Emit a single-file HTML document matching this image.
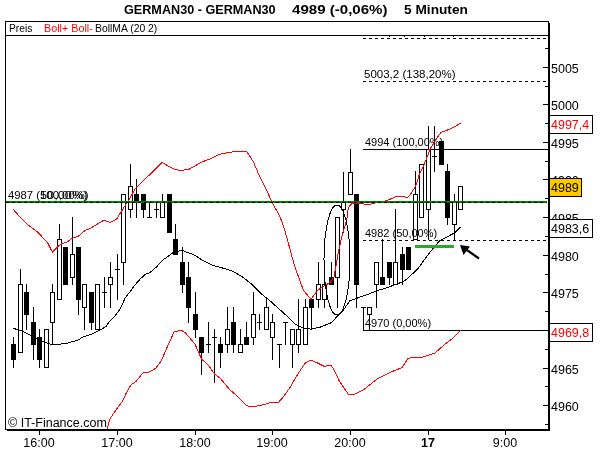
<!DOCTYPE html>
<html><head><meta charset="utf-8"><style>
html,body{margin:0;padding:0;background:#fff;width:600px;height:450px;overflow:hidden;position:relative;font-family:"Liberation Sans",sans-serif;}
.t{position:absolute;white-space:pre;line-height:1;}
</style></head><body>
<svg width="600" height="450" viewBox="0 0 600 450" style="position:absolute;left:0;top:0;will-change:transform" font-family="Liberation Sans, sans-serif"><g shape-rendering="crispEdges"><rect x="5" y="21" width="544" height="1" fill="#000"/><rect x="5" y="21" width="1" height="409" fill="#000"/><rect x="5" y="35" width="544" height="1" fill="#000"/><rect x="548" y="21" width="1" height="410" fill="#000"/><rect x="549" y="23" width="1" height="408" fill="#000"/><rect x="5" y="429" width="545" height="1" fill="#000"/><rect x="7" y="430" width="543" height="1" fill="#000"/><rect x="543" y="67" width="5" height="1" fill="#000"/><rect x="543" y="104" width="5" height="1" fill="#000"/><rect x="543" y="142" width="5" height="1" fill="#000"/><rect x="543" y="179" width="5" height="1" fill="#000"/><rect x="543" y="217" width="5" height="1" fill="#000"/><rect x="543" y="255" width="5" height="1" fill="#000"/><rect x="543" y="292" width="5" height="1" fill="#000"/><rect x="543" y="330" width="5" height="1" fill="#000"/><rect x="543" y="368" width="5" height="1" fill="#000"/><rect x="543" y="405" width="5" height="1" fill="#000"/><rect x="545" y="48" width="3" height="1" fill="#000"/><rect x="545" y="86" width="3" height="1" fill="#000"/><rect x="545" y="123" width="3" height="1" fill="#000"/><rect x="545" y="161" width="3" height="1" fill="#000"/><rect x="545" y="198" width="3" height="1" fill="#000"/><rect x="545" y="236" width="3" height="1" fill="#000"/><rect x="545" y="274" width="3" height="1" fill="#000"/><rect x="545" y="311" width="3" height="1" fill="#000"/><rect x="545" y="349" width="3" height="1" fill="#000"/><rect x="545" y="386" width="3" height="1" fill="#000"/><rect x="545" y="424" width="3" height="1" fill="#000"/><rect x="389" y="36" width="1" height="1" fill="#000"/><rect x="404" y="36" width="1" height="1" fill="#000"/><rect x="424" y="36" width="1" height="1" fill="#000"/><rect x="453" y="36" width="1" height="1" fill="#000"/><rect x="39" y="431" width="1" height="4" fill="#000"/><rect x="117" y="431" width="1" height="4" fill="#000"/><rect x="195" y="431" width="1" height="4" fill="#000"/><rect x="272" y="431" width="1" height="4" fill="#000"/><rect x="350" y="431" width="1" height="4" fill="#000"/><rect x="428" y="431" width="1" height="4" fill="#000"/><rect x="505" y="431" width="1" height="4" fill="#000"/><rect x="363" y="38" width="3" height="1" fill="#000"/><rect x="369" y="38" width="3" height="1" fill="#000"/><rect x="375" y="38" width="3" height="1" fill="#000"/><rect x="381" y="38" width="3" height="1" fill="#000"/><rect x="387" y="38" width="3" height="1" fill="#000"/><rect x="393" y="38" width="3" height="1" fill="#000"/><rect x="399" y="38" width="3" height="1" fill="#000"/><rect x="405" y="38" width="3" height="1" fill="#000"/><rect x="411" y="38" width="3" height="1" fill="#000"/><rect x="417" y="38" width="3" height="1" fill="#000"/><rect x="423" y="38" width="3" height="1" fill="#000"/><rect x="429" y="38" width="3" height="1" fill="#000"/><rect x="435" y="38" width="3" height="1" fill="#000"/><rect x="441" y="38" width="3" height="1" fill="#000"/><rect x="447" y="38" width="3" height="1" fill="#000"/><rect x="453" y="38" width="3" height="1" fill="#000"/><rect x="459" y="38" width="3" height="1" fill="#000"/><rect x="465" y="38" width="3" height="1" fill="#000"/><rect x="471" y="38" width="3" height="1" fill="#000"/><rect x="477" y="38" width="3" height="1" fill="#000"/><rect x="483" y="38" width="3" height="1" fill="#000"/><rect x="489" y="38" width="3" height="1" fill="#000"/><rect x="495" y="38" width="3" height="1" fill="#000"/><rect x="501" y="38" width="3" height="1" fill="#000"/><rect x="507" y="38" width="3" height="1" fill="#000"/><rect x="513" y="38" width="3" height="1" fill="#000"/><rect x="519" y="38" width="3" height="1" fill="#000"/><rect x="525" y="38" width="3" height="1" fill="#000"/><rect x="531" y="38" width="3" height="1" fill="#000"/><rect x="537" y="38" width="3" height="1" fill="#000"/><rect x="543" y="38" width="3" height="1" fill="#000"/><rect x="363" y="81" width="3" height="1" fill="#000"/><rect x="369" y="81" width="3" height="1" fill="#000"/><rect x="375" y="81" width="3" height="1" fill="#000"/><rect x="381" y="81" width="3" height="1" fill="#000"/><rect x="387" y="81" width="3" height="1" fill="#000"/><rect x="393" y="81" width="3" height="1" fill="#000"/><rect x="399" y="81" width="3" height="1" fill="#000"/><rect x="405" y="81" width="3" height="1" fill="#000"/><rect x="411" y="81" width="3" height="1" fill="#000"/><rect x="417" y="81" width="3" height="1" fill="#000"/><rect x="423" y="81" width="3" height="1" fill="#000"/><rect x="429" y="81" width="3" height="1" fill="#000"/><rect x="435" y="81" width="3" height="1" fill="#000"/><rect x="441" y="81" width="3" height="1" fill="#000"/><rect x="447" y="81" width="3" height="1" fill="#000"/><rect x="453" y="81" width="3" height="1" fill="#000"/><rect x="459" y="81" width="3" height="1" fill="#000"/><rect x="465" y="81" width="3" height="1" fill="#000"/><rect x="471" y="81" width="3" height="1" fill="#000"/><rect x="477" y="81" width="3" height="1" fill="#000"/><rect x="483" y="81" width="3" height="1" fill="#000"/><rect x="489" y="81" width="3" height="1" fill="#000"/><rect x="495" y="81" width="3" height="1" fill="#000"/><rect x="501" y="81" width="3" height="1" fill="#000"/><rect x="507" y="81" width="3" height="1" fill="#000"/><rect x="513" y="81" width="3" height="1" fill="#000"/><rect x="519" y="81" width="3" height="1" fill="#000"/><rect x="525" y="81" width="3" height="1" fill="#000"/><rect x="531" y="81" width="3" height="1" fill="#000"/><rect x="537" y="81" width="3" height="1" fill="#000"/><rect x="543" y="81" width="3" height="1" fill="#000"/><rect x="363" y="149" width="185" height="1" fill="#000"/><rect x="363" y="240" width="3" height="1" fill="#000"/><rect x="369" y="240" width="3" height="1" fill="#000"/><rect x="375" y="240" width="3" height="1" fill="#000"/><rect x="381" y="240" width="3" height="1" fill="#000"/><rect x="387" y="240" width="3" height="1" fill="#000"/><rect x="393" y="240" width="3" height="1" fill="#000"/><rect x="399" y="240" width="3" height="1" fill="#000"/><rect x="405" y="240" width="3" height="1" fill="#000"/><rect x="411" y="240" width="3" height="1" fill="#000"/><rect x="417" y="240" width="3" height="1" fill="#000"/><rect x="423" y="240" width="3" height="1" fill="#000"/><rect x="429" y="240" width="3" height="1" fill="#000"/><rect x="435" y="240" width="3" height="1" fill="#000"/><rect x="441" y="240" width="3" height="1" fill="#000"/><rect x="447" y="240" width="3" height="1" fill="#000"/><rect x="453" y="240" width="3" height="1" fill="#000"/><rect x="459" y="240" width="3" height="1" fill="#000"/><rect x="465" y="240" width="3" height="1" fill="#000"/><rect x="471" y="240" width="3" height="1" fill="#000"/><rect x="477" y="240" width="3" height="1" fill="#000"/><rect x="483" y="240" width="3" height="1" fill="#000"/><rect x="489" y="240" width="3" height="1" fill="#000"/><rect x="495" y="240" width="3" height="1" fill="#000"/><rect x="501" y="240" width="3" height="1" fill="#000"/><rect x="507" y="240" width="3" height="1" fill="#000"/><rect x="513" y="240" width="3" height="1" fill="#000"/><rect x="519" y="240" width="3" height="1" fill="#000"/><rect x="525" y="240" width="3" height="1" fill="#000"/><rect x="531" y="240" width="3" height="1" fill="#000"/><rect x="537" y="240" width="3" height="1" fill="#000"/><rect x="543" y="240" width="3" height="1" fill="#000"/><rect x="363" y="330" width="185" height="1" fill="#000"/></g><text x="124" y="14" font-size="12" fill="#000" font-weight="bold" text-anchor="start" textLength="151.6" lengthAdjust="spacingAndGlyphs">GERMAN30 - GERMAN30</text><text x="292" y="14" font-size="12" fill="#000" font-weight="bold" text-anchor="start" textLength="95.5" lengthAdjust="spacingAndGlyphs">4989 (-0,06%)</text><text x="404" y="14" font-size="12" fill="#000" font-weight="bold" text-anchor="start" textLength="63.9" lengthAdjust="spacingAndGlyphs">5 Minuten</text><text x="9" y="32" font-size="11" fill="#000" font-weight="normal" text-anchor="start" textLength="23.4" lengthAdjust="spacingAndGlyphs">Preis</text><text x="44" y="32" font-size="11" fill="#f00" font-weight="normal" text-anchor="start" textLength="48.8" lengthAdjust="spacingAndGlyphs">Boll+ Boll-</text><text x="95" y="32" font-size="11" fill="#000" font-weight="normal" text-anchor="start" textLength="62.3" lengthAdjust="spacingAndGlyphs">BollMA (20 2)</text><text x="551" y="73" font-size="12.5" fill="#000" font-weight="normal" text-anchor="start">5005</text><text x="551" y="110" font-size="12.5" fill="#000" font-weight="normal" text-anchor="start">5000</text><text x="551" y="148" font-size="12.5" fill="#000" font-weight="normal" text-anchor="start">4995</text><text x="551" y="185" font-size="12.5" fill="#000" font-weight="normal" text-anchor="start">4990</text><text x="551" y="223" font-size="12.5" fill="#000" font-weight="normal" text-anchor="start">4985</text><text x="551" y="261" font-size="12.5" fill="#000" font-weight="normal" text-anchor="start">4980</text><text x="551" y="298" font-size="12.5" fill="#000" font-weight="normal" text-anchor="start">4975</text><text x="551" y="374" font-size="12.5" fill="#000" font-weight="normal" text-anchor="start">4965</text><text x="551" y="411" font-size="12.5" fill="#000" font-weight="normal" text-anchor="start">4960</text><text x="39" y="447" font-size="12.5" fill="#000" font-weight="normal" text-anchor="middle">16:00</text><text x="117" y="447" font-size="12.5" fill="#000" font-weight="normal" text-anchor="middle">17:00</text><text x="195" y="447" font-size="12.5" fill="#000" font-weight="normal" text-anchor="middle">18:00</text><text x="272" y="447" font-size="12.5" fill="#000" font-weight="normal" text-anchor="middle">19:00</text><text x="350" y="447" font-size="12.5" fill="#000" font-weight="normal" text-anchor="middle">20:00</text><text x="505" y="447" font-size="12.5" fill="#000" font-weight="normal" text-anchor="middle">9:00</text><text x="428" y="447" font-size="12.5" fill="#000" font-weight="bold" text-anchor="middle">17</text><text x="8" y="427" font-size="12.5" fill="#000" font-weight="normal" text-anchor="start">&#169; IT-Finance.com</text><text x="8" y="199" font-size="11" fill="#000" font-weight="normal" text-anchor="start" textLength="80.5" lengthAdjust="spacingAndGlyphs">4987 (100,00%)</text><text x="40" y="199" font-size="11" fill="#000" font-weight="normal" text-anchor="start" textLength="47.5" lengthAdjust="spacingAndGlyphs">50,00%)</text><g shape-rendering="crispEdges" fill="#000"><rect x="13" y="337" width="1" height="31"/><rect x="11" y="344" width="5" height="16"/><rect x="20" y="269" width="1" height="84"/><rect x="18" y="284" width="5" height="69"/><rect x="19" y="285" width="3" height="67" fill="#fff"/><rect x="26" y="284" width="1" height="46"/><rect x="24" y="292" width="5" height="23"/><rect x="33" y="307" width="1" height="53"/><rect x="31" y="322" width="5" height="23"/><rect x="39" y="329" width="1" height="39"/><rect x="37" y="337" width="5" height="23"/><rect x="46" y="329" width="1" height="39"/><rect x="44" y="329" width="5" height="39"/><rect x="45" y="330" width="3" height="37" fill="#fff"/><rect x="52" y="284" width="1" height="61"/><rect x="50" y="292" width="5" height="31"/><rect x="51" y="293" width="3" height="29" fill="#fff"/><rect x="59" y="224" width="1" height="76"/><rect x="57" y="239" width="5" height="61"/><rect x="58" y="240" width="3" height="59" fill="#fff"/><rect x="65" y="247" width="1" height="38"/><rect x="63" y="247" width="5" height="38"/><rect x="72" y="217" width="1" height="68"/><rect x="70" y="254" width="5" height="24"/><rect x="71" y="255" width="3" height="22" fill="#fff"/><rect x="78" y="247" width="1" height="68"/><rect x="76" y="247" width="5" height="53"/><rect x="84" y="284" width="1" height="46"/><rect x="82" y="284" width="5" height="24"/><rect x="83" y="285" width="3" height="22" fill="#fff"/><rect x="91" y="292" width="1" height="38"/><rect x="89" y="292" width="5" height="31"/><rect x="97" y="284" width="1" height="46"/><rect x="95" y="284" width="5" height="46"/><rect x="96" y="285" width="3" height="44" fill="#fff"/><rect x="104" y="277" width="1" height="31"/><rect x="102" y="292" width="5" height="1"/><rect x="110" y="262" width="1" height="46"/><rect x="108" y="277" width="5" height="8"/><rect x="109" y="278" width="3" height="6" fill="#fff"/><rect x="117" y="254" width="1" height="46"/><rect x="115" y="269" width="5" height="1"/><rect x="123" y="194" width="1" height="91"/><rect x="121" y="194" width="5" height="69"/><rect x="122" y="195" width="3" height="67" fill="#fff"/><rect x="130" y="164" width="1" height="54"/><rect x="128" y="186" width="5" height="24"/><rect x="129" y="187" width="3" height="22" fill="#fff"/><rect x="136" y="179" width="1" height="39"/><rect x="134" y="194" width="5" height="9"/><rect x="143" y="194" width="1" height="24"/><rect x="141" y="194" width="5" height="16"/><rect x="149" y="202" width="1" height="16"/><rect x="147" y="217" width="5" height="1"/><rect x="156" y="202" width="1" height="16"/><rect x="154" y="209" width="5" height="1"/><rect x="162" y="194" width="1" height="24"/><rect x="160" y="202" width="5" height="16"/><rect x="161" y="203" width="3" height="14" fill="#fff"/><rect x="169" y="194" width="1" height="39"/><rect x="167" y="194" width="5" height="39"/><rect x="175" y="224" width="1" height="31"/><rect x="173" y="239" width="5" height="16"/><rect x="182" y="247" width="1" height="46"/><rect x="180" y="262" width="5" height="23"/><rect x="188" y="262" width="1" height="61"/><rect x="186" y="277" width="5" height="31"/><rect x="195" y="292" width="1" height="46"/><rect x="193" y="314" width="5" height="16"/><rect x="201" y="337" width="1" height="38"/><rect x="199" y="337" width="5" height="16"/><rect x="208" y="322" width="1" height="31"/><rect x="206" y="344" width="5" height="1"/><rect x="214" y="329" width="1" height="54"/><rect x="212" y="337" width="5" height="1"/><rect x="220" y="337" width="1" height="31"/><rect x="218" y="344" width="5" height="9"/><rect x="227" y="307" width="1" height="46"/><rect x="225" y="329" width="5" height="16"/><rect x="226" y="330" width="3" height="14" fill="#fff"/><rect x="233" y="307" width="1" height="46"/><rect x="231" y="322" width="5" height="23"/><rect x="240" y="329" width="1" height="24"/><rect x="238" y="344" width="5" height="9"/><rect x="239" y="345" width="3" height="7" fill="#fff"/><rect x="246" y="322" width="1" height="23"/><rect x="244" y="337" width="5" height="8"/><rect x="253" y="292" width="1" height="53"/><rect x="251" y="314" width="5" height="24"/><rect x="252" y="315" width="3" height="22" fill="#fff"/><rect x="259" y="314" width="1" height="16"/><rect x="257" y="322" width="5" height="1"/><rect x="266" y="299" width="1" height="31"/><rect x="264" y="307" width="5" height="23"/><rect x="265" y="308" width="3" height="21" fill="#fff"/><rect x="272" y="314" width="1" height="46"/><rect x="270" y="322" width="5" height="16"/><rect x="271" y="323" width="3" height="14" fill="#fff"/><rect x="279" y="344" width="1" height="24"/><rect x="277" y="344" width="5" height="1"/><rect x="285" y="322" width="1" height="23"/><rect x="283" y="322" width="5" height="1"/><rect x="292" y="329" width="1" height="39"/><rect x="290" y="329" width="5" height="16"/><rect x="291" y="330" width="3" height="14" fill="#fff"/><rect x="298" y="299" width="1" height="54"/><rect x="296" y="329" width="5" height="16"/><rect x="297" y="330" width="3" height="14" fill="#fff"/><rect x="305" y="299" width="1" height="46"/><rect x="303" y="307" width="5" height="38"/><rect x="304" y="308" width="3" height="36" fill="#fff"/><rect x="311" y="299" width="1" height="31"/><rect x="309" y="299" width="5" height="9"/><rect x="318" y="262" width="1" height="46"/><rect x="316" y="284" width="5" height="16"/><rect x="317" y="285" width="3" height="14" fill="#fff"/><rect x="324" y="277" width="1" height="31"/><rect x="322" y="284" width="5" height="16"/><rect x="323" y="285" width="3" height="14" fill="#fff"/><rect x="331" y="262" width="1" height="23"/><rect x="329" y="277" width="5" height="8"/><rect x="337" y="217" width="1" height="91"/><rect x="335" y="217" width="5" height="61"/><rect x="336" y="218" width="3" height="59" fill="#fff"/><rect x="343" y="172" width="1" height="61"/><rect x="341" y="202" width="5" height="8"/><rect x="342" y="203" width="3" height="6" fill="#fff"/><rect x="350" y="149" width="1" height="46"/><rect x="348" y="172" width="5" height="23"/><rect x="349" y="173" width="3" height="21" fill="#fff"/><rect x="356" y="194" width="1" height="114"/><rect x="354" y="194" width="5" height="91"/><rect x="363" y="307" width="1" height="23"/><rect x="361" y="307" width="5" height="1"/><rect x="369" y="307" width="1" height="23"/><rect x="367" y="307" width="5" height="8"/><rect x="368" y="308" width="3" height="6" fill="#fff"/><rect x="376" y="262" width="1" height="46"/><rect x="374" y="262" width="5" height="23"/><rect x="375" y="263" width="3" height="21" fill="#fff"/><rect x="382" y="239" width="1" height="46"/><rect x="380" y="277" width="5" height="8"/><rect x="389" y="262" width="1" height="23"/><rect x="387" y="262" width="5" height="16"/><rect x="395" y="209" width="1" height="76"/><rect x="393" y="262" width="5" height="23"/><rect x="394" y="263" width="3" height="21" fill="#fff"/><rect x="402" y="247" width="1" height="38"/><rect x="400" y="254" width="5" height="16"/><rect x="408" y="247" width="1" height="23"/><rect x="406" y="247" width="5" height="23"/><rect x="415" y="171" width="1" height="69"/><rect x="413" y="194" width="5" height="46"/><rect x="414" y="195" width="3" height="44" fill="#fff"/><rect x="421" y="164" width="1" height="54"/><rect x="419" y="164" width="5" height="54"/><rect x="420" y="165" width="3" height="52" fill="#fff"/><rect x="428" y="126" width="1" height="114"/><rect x="426" y="149" width="5" height="61"/><rect x="427" y="150" width="3" height="59" fill="#fff"/><rect x="434" y="126" width="1" height="46"/><rect x="432" y="156" width="5" height="1"/><rect x="441" y="141" width="1" height="24"/><rect x="439" y="141" width="5" height="24"/><rect x="447" y="164" width="1" height="61"/><rect x="445" y="171" width="5" height="47"/><rect x="454" y="194" width="1" height="46"/><rect x="452" y="202" width="5" height="23"/><rect x="453" y="203" width="3" height="21" fill="#fff"/><rect x="460" y="186" width="1" height="24"/><rect x="458" y="186" width="5" height="24"/><rect x="459" y="187" width="3" height="22" fill="#fff"/></g><text x="364" y="78" font-size="11" fill="#000" font-weight="normal" text-anchor="start" textLength="91.5" lengthAdjust="spacingAndGlyphs">5003,2 (138,20%)</text><text x="365" y="146" font-size="11" fill="#000" font-weight="normal" text-anchor="start">4994 (100,00%)</text><text x="365" y="237" font-size="11" fill="#000" font-weight="normal" text-anchor="start">4982 (50,00%)</text><text x="365" y="327" font-size="11" fill="#000" font-weight="normal" text-anchor="start">4970 (0,00%)</text><g shape-rendering="crispEdges"><polyline fill="none" stroke="#ff0000" stroke-width="1" points="13.0,209.0 19.0,216.0 28.3,225.0 38.0,232.5 47.5,242.5 52.5,252.3 56.0,248.3 60.7,244.3 67.3,242.0 72.0,238.3 78.0,236.5 85.3,230.3 89.3,229.0 96.0,225.0 104.0,220.0 110.0,222.5 116.7,219.0 119.0,215.0 125.5,205.0 128.0,201.5 134.5,190.0 136.5,187.3 141.0,183.3 147.0,177.3 153.7,170.7 159.0,165.3 162.3,162.4 168.3,166.0 175.0,169.6 180.0,170.3 188.3,169.7 200.0,163.0 206.7,160.0 211.7,158.3 220.0,154.2 228.3,152.5 237.5,151.3 246.7,151.3 253.3,161.7 258.3,173.3 265.0,186.7 272.5,203.3 280.0,216.7 284.2,228.3 287.5,240.0 290.5,251.0 294.5,266.0 297.8,275.0 303.3,290.0 310.8,299.3 318.0,290.0 330.7,282.0 334.0,276.7 336.7,262.0 338.7,250.0 343.3,231.0 346.7,220.3 348.3,208.0 350.7,204.3 353.3,203.3 362.4,203.7 368.7,204.7 374.9,202.9 387.3,200.5 395.1,197.0 399.8,196.3 407.8,197.4 410.1,194.8 415.6,186.2 419.2,174.9 423.3,166.7 430.3,148.8 435.8,139.4 441.2,132.4 445.1,130.9 451.3,128.6 460.7,123.1"/><polyline fill="none" stroke="#ff0000" stroke-width="1" points="107.3,429.0 110.0,418.7 116.0,410.0 122.0,402.0 125.8,394.0 130.8,385.0 135.8,381.7 143.3,372.5 149.2,372.0 155.8,368.3 161.7,360.0 166.7,348.3 174.2,331.7 181.7,330.3 185.8,333.3 195.0,344.2 201.7,359.2 208.3,365.0 214.7,374.2 220.0,378.0 230.0,390.0 237.5,396.3 246.3,405.5 251.3,407.0 260.0,405.5 271.3,402.5 278.8,402.0 283.8,396.3 290.0,387.5 298.3,373.3 305.0,363.3 310.8,360.0 317.5,363.0 324.2,366.3 330.8,365.0 334.2,370.0 339.2,380.8 344.2,388.3 348.3,394.2 355.0,394.2 363.3,390.0 376.7,379.2 390.0,372.4 402.0,367.6 408.0,358.4 413.0,357.4 422.0,357.4 435.0,353.0 444.0,345.0 452.0,339.0 461.0,330.0"/><polyline fill="none" stroke="#000000" stroke-width="1" points="13.0,328.3 21.7,330.8 31.7,335.8 41.7,340.8 52.5,345.0 66.7,343.3 78.3,340.0 83.3,336.7 91.7,334.2 100.0,330.0 105.8,326.7 110.0,320.8 115.0,315.8 120.0,309.2 125.0,298.3 130.0,291.7 135.0,285.0 140.0,279.2 145.0,274.5 150.0,272.5 156.7,266.7 163.0,260.0 173.3,252.5 182.0,250.2 188.0,252.8 193.3,254.4 202.2,260.0 213.3,265.5 225.0,268.7 233.3,271.5 243.3,277.5 251.7,284.2 261.7,294.2 270.0,300.8 278.3,308.3 286.7,315.8 295.0,324.2 303.0,328.0 311.0,329.2 320.0,327.2 331.1,322.8 334.4,319.4 343.9,309.4 350.0,300.6 356.7,298.3 366.1,295.0 377.2,290.6 386.1,288.0 401.7,282.2 406.2,279.6 417.8,268.9 426.7,256.4 433.8,247.6 439.4,241.0 454.4,233.0 460.6,227.0"/></g><g shape-rendering="crispEdges"><rect x="6" y="201" width="541" height="2" fill="#008000"/><rect x="6" y="202" width="3" height="1" fill="#000"/><rect x="12" y="202" width="3" height="1" fill="#000"/><rect x="18" y="202" width="3" height="1" fill="#000"/><rect x="24" y="202" width="3" height="1" fill="#000"/><rect x="30" y="202" width="3" height="1" fill="#000"/><rect x="36" y="202" width="3" height="1" fill="#000"/><rect x="42" y="202" width="3" height="1" fill="#000"/><rect x="48" y="202" width="3" height="1" fill="#000"/><rect x="54" y="202" width="3" height="1" fill="#000"/><rect x="60" y="202" width="3" height="1" fill="#000"/><rect x="66" y="202" width="3" height="1" fill="#000"/><rect x="72" y="202" width="3" height="1" fill="#000"/><rect x="78" y="202" width="3" height="1" fill="#000"/><rect x="84" y="202" width="3" height="1" fill="#000"/><rect x="90" y="202" width="3" height="1" fill="#000"/><rect x="96" y="202" width="3" height="1" fill="#000"/><rect x="102" y="202" width="3" height="1" fill="#000"/><rect x="108" y="202" width="3" height="1" fill="#000"/><rect x="114" y="202" width="3" height="1" fill="#000"/><rect x="120" y="202" width="3" height="1" fill="#000"/><rect x="126" y="202" width="3" height="1" fill="#000"/><rect x="132" y="202" width="3" height="1" fill="#000"/><rect x="138" y="202" width="3" height="1" fill="#000"/><rect x="144" y="202" width="3" height="1" fill="#000"/><rect x="150" y="202" width="3" height="1" fill="#000"/><rect x="156" y="202" width="3" height="1" fill="#000"/><rect x="162" y="202" width="3" height="1" fill="#000"/><rect x="168" y="202" width="3" height="1" fill="#000"/><rect x="174" y="202" width="3" height="1" fill="#000"/><rect x="180" y="202" width="3" height="1" fill="#000"/><rect x="186" y="202" width="3" height="1" fill="#000"/><rect x="192" y="202" width="3" height="1" fill="#000"/><rect x="198" y="202" width="3" height="1" fill="#000"/><rect x="204" y="202" width="3" height="1" fill="#000"/><rect x="210" y="202" width="3" height="1" fill="#000"/><rect x="216" y="202" width="3" height="1" fill="#000"/><rect x="222" y="202" width="3" height="1" fill="#000"/><rect x="228" y="202" width="3" height="1" fill="#000"/><rect x="234" y="202" width="3" height="1" fill="#000"/><rect x="240" y="202" width="3" height="1" fill="#000"/><rect x="246" y="202" width="3" height="1" fill="#000"/><rect x="252" y="202" width="3" height="1" fill="#000"/><rect x="258" y="202" width="3" height="1" fill="#000"/><rect x="264" y="202" width="3" height="1" fill="#000"/><rect x="270" y="202" width="3" height="1" fill="#000"/><rect x="276" y="202" width="3" height="1" fill="#000"/><rect x="282" y="202" width="3" height="1" fill="#000"/><rect x="288" y="202" width="3" height="1" fill="#000"/><rect x="294" y="202" width="3" height="1" fill="#000"/><rect x="300" y="202" width="3" height="1" fill="#000"/><rect x="306" y="202" width="3" height="1" fill="#000"/><rect x="312" y="202" width="3" height="1" fill="#000"/><rect x="318" y="202" width="3" height="1" fill="#000"/><rect x="324" y="202" width="3" height="1" fill="#000"/><rect x="330" y="202" width="3" height="1" fill="#000"/><rect x="336" y="202" width="3" height="1" fill="#000"/><rect x="342" y="202" width="3" height="1" fill="#000"/><rect x="348" y="202" width="3" height="1" fill="#000"/><rect x="354" y="202" width="3" height="1" fill="#000"/><rect x="360" y="202" width="3" height="1" fill="#000"/><rect x="366" y="202" width="3" height="1" fill="#000"/><rect x="372" y="202" width="3" height="1" fill="#000"/><rect x="378" y="202" width="3" height="1" fill="#000"/><rect x="384" y="202" width="3" height="1" fill="#000"/><rect x="390" y="202" width="3" height="1" fill="#000"/><rect x="396" y="202" width="3" height="1" fill="#000"/><rect x="402" y="202" width="3" height="1" fill="#000"/><rect x="408" y="202" width="3" height="1" fill="#000"/><rect x="414" y="202" width="3" height="1" fill="#000"/><rect x="420" y="202" width="3" height="1" fill="#000"/><rect x="426" y="202" width="3" height="1" fill="#000"/><rect x="432" y="202" width="3" height="1" fill="#000"/><rect x="438" y="202" width="3" height="1" fill="#000"/><rect x="444" y="202" width="3" height="1" fill="#000"/><rect x="450" y="202" width="3" height="1" fill="#000"/><rect x="456" y="202" width="3" height="1" fill="#000"/><rect x="462" y="202" width="3" height="1" fill="#000"/><rect x="468" y="202" width="3" height="1" fill="#000"/><rect x="474" y="202" width="3" height="1" fill="#000"/><rect x="480" y="202" width="3" height="1" fill="#000"/><rect x="486" y="202" width="3" height="1" fill="#000"/><rect x="492" y="202" width="3" height="1" fill="#000"/><rect x="498" y="202" width="3" height="1" fill="#000"/><rect x="504" y="202" width="3" height="1" fill="#000"/><rect x="510" y="202" width="3" height="1" fill="#000"/><rect x="516" y="202" width="3" height="1" fill="#000"/><rect x="522" y="202" width="3" height="1" fill="#000"/><rect x="528" y="202" width="3" height="1" fill="#000"/><rect x="534" y="202" width="3" height="1" fill="#000"/><rect x="540" y="202" width="3" height="1" fill="#000"/><rect x="546" y="202" width="1" height="1" fill="#000"/></g><ellipse cx="337" cy="260" rx="13" ry="55" fill="none" stroke="#000" stroke-width="1" shape-rendering="crispEdges"/><rect x="415" y="245" width="39" height="3" fill="#25ac28" shape-rendering="crispEdges"/><line x1="479" y1="258.5" x2="464" y2="248" stroke="#000" stroke-width="2.2"/><polygon points="460,245 470,246.5 463.5,255" fill="#000"/><g shape-rendering="crispEdges"><rect x="549.5" y="115.5" width="43" height="18" fill="#fff" stroke="#000"/><rect x="549.5" y="178.5" width="32" height="18" fill="#ffc800" stroke="#000"/><rect x="549.5" y="219.5" width="43" height="18" fill="#fff" stroke="#000"/><rect x="549.5" y="323.5" width="43" height="18" fill="#fff" stroke="#000"/></g><text x="551" y="129" font-size="12.5" fill="#f00" font-weight="normal" text-anchor="start">4997,4</text><text x="551" y="192" font-size="12.5" fill="#000" font-weight="normal" text-anchor="start">4989</text><text x="551" y="233" font-size="12.5" fill="#000" font-weight="normal" text-anchor="start">4983,6</text><text x="551" y="337" font-size="12.5" fill="#f00" font-weight="normal" text-anchor="start">4969,8</text></svg>
</body></html>
